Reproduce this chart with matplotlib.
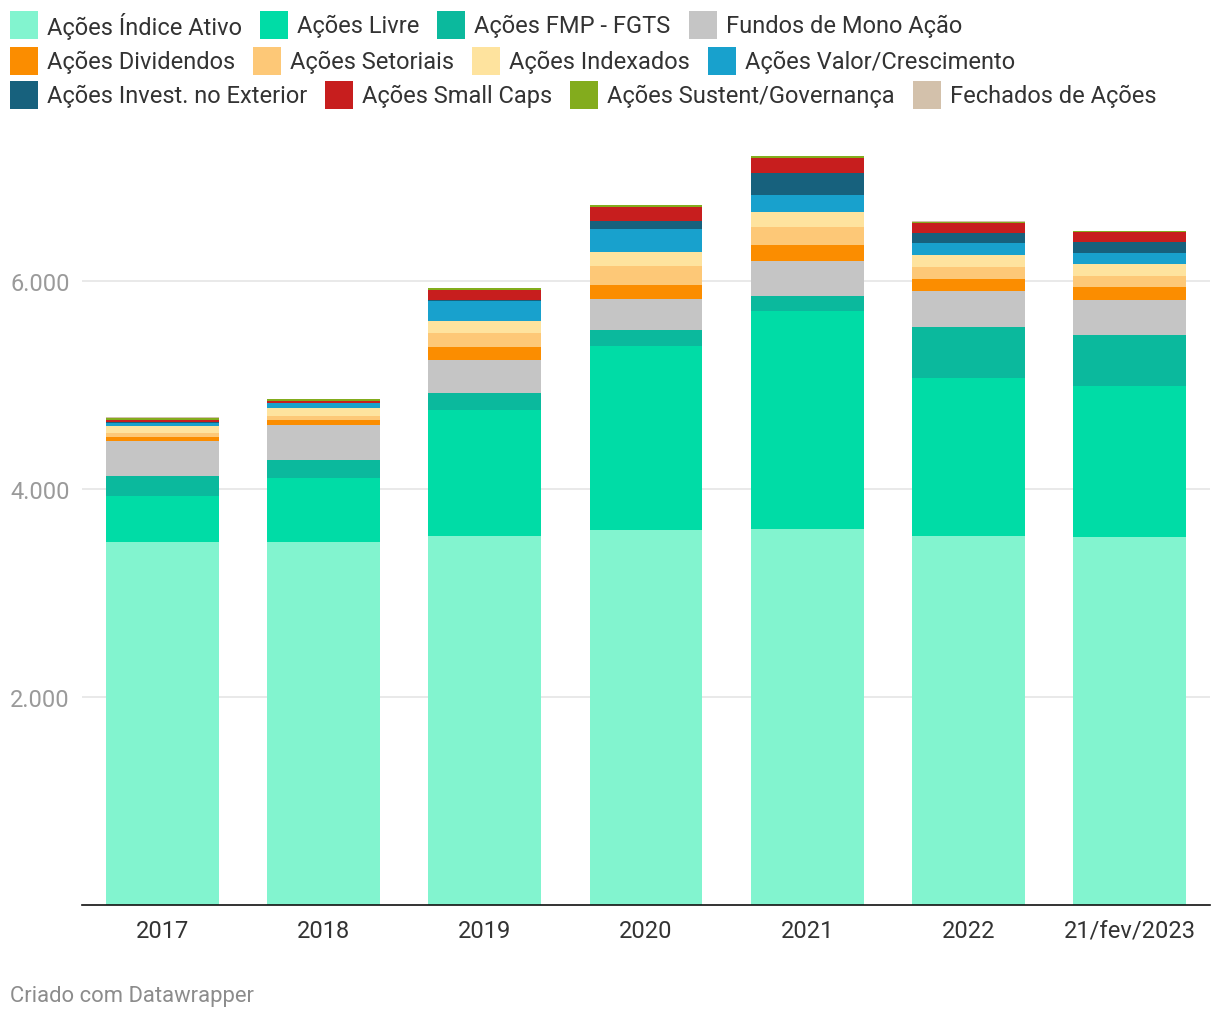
import matplotlib.pyplot as plt
from matplotlib.patches import Rectangle
import numpy as np

plt.rcParams.update({
    'font.family': ['Roboto', 'DejaVu Sans'],
    'font.size': 17,
})

# Values (number of funds per category)
years = ['2017', '2018', '2019', '2020', '2021', '2022', '21/fev/2023']
categories = [
    'Ações Índice Ativo', 'Ações Livre', 'Ações FMP - FGTS', 'Fundos de Mono Ação',
    'Ações Dividendos', 'Ações Setoriais', 'Ações Indexados', 'Ações Valor/Crescimento',
    'Ações Invest. no Exterior', 'Ações Small Caps', 'Ações Sustent/Governança',
    'Fechados de Ações',
]
indice_ativo = [3493, 3493, 3548, 3606, 3615, 3548, 3538]
livre = [442, 615, 1211, 1769, 2096, 1519, 1452]
fmp_fgts = [189, 170, 163, 154, 144, 490, 490]
mono_acao = [337, 337, 317, 298, 337, 346, 337]
dividendos = [38, 51, 125, 135, 154, 115, 125]
setoriais = [38, 36, 135, 183, 173, 115, 106]
indexados = [67, 80, 115, 135, 144, 115, 115]
valor_cresc = [32, 42, 192, 221, 163, 115, 106]
exterior = [5, 5, 7, 77, 212, 96, 106]
small_caps = [26, 19, 99, 135, 144, 96, 96]
sustent = [19, 15, 19, 19, 19, 10, 10]
fechados = [2, 2, 2, 2, 2, 10, 3]

colors = ['#82f4cf', '#00dca6', '#0bb99d', '#c5c5c5', '#fb8d00', '#fdc877',
          '#fee39e', '#18a1cd', '#17617d', '#c71e1e', '#83ac1d', '#d3c1ab']

series = [indice_ativo, livre, fmp_fgts, mono_acao, dividendos, setoriais,
          indexados, valor_cresc, exterior, small_caps, sustent, fechados]

W, H = 1220, 1020
fig = plt.figure(figsize=(W / 100, H / 100), dpi=100)
ax = fig.add_axes([82 / W, (H - 906) / H, 1128 / W, (906 - 140) / H])

x = np.arange(len(years))
bottom = np.zeros(len(years))
for vals, col in zip(series, colors):
    ax.bar(x, vals, width=0.70, bottom=bottom, color=col, linewidth=0, zorder=2)
    bottom += np.array(vals)

ax.set_xlim(-0.5, len(years) - 0.5)
ax.set_ylim(0, 7365)
ax.set_xticks(x)
ax.set_xticklabels(years, color='#333333', fontsize=17)
ax.set_yticks([2000, 4000, 6000])
ax.set_yticklabels(['2.000', '4.000', '6.000'], color='#9a9a9a', fontsize=17)
ax.tick_params(axis='both', length=0)
ax.tick_params(axis='x', pad=10)
ax.tick_params(axis='y', pad=9)
ax.grid(axis='y', color='#e3e3e3', linewidth=1.1, zorder=0)
for s in ['top', 'right', 'left']:
    ax.spines[s].set_visible(False)
ax.spines['bottom'].set_color('#111111')
ax.spines['bottom'].set_linewidth(1.2)

# Flow legend, three rows as in the reference
rows = [[0, 1, 2, 3], [4, 5, 6, 7], [8, 9, 10, 11]]
row_y = [26, 62, 96]
renderer = fig.canvas.get_renderer()
for row, yc in zip(rows, row_y):
    xp = 10
    for i in row:
        fig.add_artist(Rectangle((xp / W, 1 - (yc + 14) / H), 28 / W, 28 / H,
                                 transform=fig.transFigure, color=colors[i], linewidth=0))
        t = fig.text((xp + 37) / W, 1 - yc / H, categories[i], ha='left', va='center',
                     color='#333333', fontsize=17)
        w = t.get_window_extent(renderer).width
        xp = xp + 37 + w + 18

fig.text(10 / W, 1 - 997 / H, 'Criado com Datawrapper', color='#8c8c8c',
         fontsize=15.8, ha='left', va='center')

fig.savefig('out.png', dpi=100)
